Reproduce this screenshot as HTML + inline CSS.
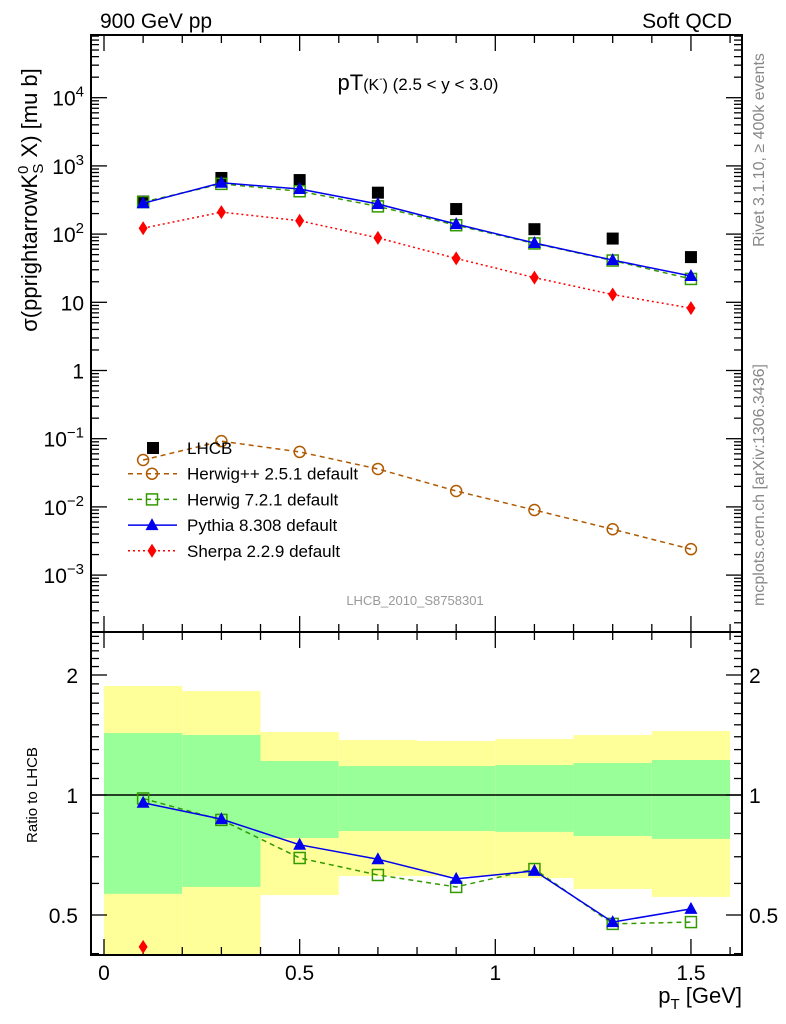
<!DOCTYPE html>
<html><head><meta charset="utf-8">
<style>
html,body{margin:0;padding:0;background:#fff;}
svg{display:block;font-family:"Liberation Sans",sans-serif;}
</style></head>
<body>
<svg id="chart" width="786" height="1024" viewBox="0 0 786 1024" xmlns="http://www.w3.org/2000/svg">
<defs><clipPath id="rclip"><rect x="91" y="632" width="651" height="323"/></clipPath></defs>
<g id="bands"></g>
<g id="grid"></g>
<g id="series"></g>
<text x="100" y="28" font-size="21">900 GeV pp</text>
<text x="732" y="28" font-size="21" text-anchor="end">Soft QCD</text>
<text x="418" y="90" font-size="22" text-anchor="middle">pT<tspan font-size="16">(K</tspan><tspan font-size="10" dy="-8">-</tspan><tspan font-size="16" dy="8">)</tspan><tspan font-size="17"> (2.5 &lt; y &lt; 3.0)</tspan></text>
<text x="415" y="605" font-size="13" fill="#999" text-anchor="middle">LHCB_2010_S8758301</text>
<text transform="translate(764,150) rotate(-90)" font-size="16" fill="#888" text-anchor="middle">Rivet 3.1.10, ≥ 400k events</text>
<text transform="translate(764,485) rotate(-90)" font-size="16" fill="#888" text-anchor="middle">mcplots.cern.ch [arXiv:1306.3436]</text>
<text transform="translate(37,200) rotate(-90)" font-size="22" text-anchor="middle">σ(pprightarrowK<tspan font-size="15" dy="-9">0</tspan><tspan font-size="15" dy="15" dx="-8">S</tspan><tspan dy="-6"> X) [mu b]</tspan></text>
<text transform="translate(37,795) rotate(-90)" font-size="15" text-anchor="middle">Ratio to LHCB</text>
<text x="742" y="1003" font-size="22" text-anchor="end">p<tspan font-size="15" dy="6">T</tspan><tspan dy="-6"> [GeV]</tspan></text>
<g id="legend"></g>
</svg>
<script>
const xCenters=[0.1,0.3,0.5,0.7,0.9,1.1,1.3,1.5];
const binEdges=[0,0.2,0.4,0.6,0.8,1.0,1.2,1.4,1.6];
const lhcb=[300,665,620,405,233,118,86,46];
const herwigpp=[0.0487,0.092,0.064,0.036,0.0171,0.009,0.0047,0.0024];
const herwig7=[295,545,425,255,135,73,41,22];
const pythia=[283,565,458,276,140,74,41.6,24.3];
const sherpa=[122,210,157,88,44,23,13,8.2];
const ratioPythia=[0.956,0.87,0.75,0.69,0.616,0.645,0.48,0.518];
const ratioHerwig7=[0.98,0.866,0.695,0.63,0.588,0.652,0.475,0.48];
const ratioSherpa=[0.416];
const yellowHi=[1.877,1.823,1.439,1.374,1.366,1.382,1.414,1.447];
const yellowLo=[0.3,0.3,0.561,0.626,0.626,0.619,0.581,0.555];
const greenHi=[1.430,1.414,1.217,1.182,1.182,1.189,1.203,1.224];
const greenLo=[0.565,0.588,0.780,0.812,0.812,0.808,0.789,0.776];
const mainTicks=["10⁻³","10⁻²","10⁻¹","1","10","10²","10³","10⁴"];
const xTickLabels=["0","0.5","1","1.5"];

const NS="http://www.w3.org/2000/svg";
const L=91,R=742,T1=35,B1=632,B2=955;
const xs=v=>104+v*391.3;
const ym=v=>370.5-Math.log10(v)*68.2;
const yr=v=>795-Math.log2(v)*120;
function mk(tag,attrs,parent){const e=document.createElementNS(NS,tag);for(const k in attrs)e.setAttribute(k,attrs[k]);parent.appendChild(e);return e;}
const bands=document.getElementById('bands'),grid=document.getElementById('grid'),ser=document.getElementById('series'),leg=document.getElementById('legend');
for(let i=0;i<8;i++){
  const x0=xs(binEdges[i]),x1=xs(binEdges[i+1]);
  const a=Math.max(yr(yellowHi[i]),B1),b=Math.min(yr(yellowLo[i]),B2);
  const r=mk('rect',{x:x0,y:a,width:x1-x0,height:b-a,fill:'#ffff99'},bands);
  
  
  const c=yr(greenHi[i]),d=yr(greenLo[i]);
  const g=mk('rect',{x:x0,y:c,width:x1-x0,height:d-c,fill:'#99ff99'},bands);
  
  
}
mk('rect',{x:L,y:T1,width:R-L,height:B1-T1,fill:'none',stroke:'#000','stroke-width':2},grid);
mk('rect',{x:L,y:B1,width:R-L,height:B2-B1,fill:'none',stroke:'#000','stroke-width':2},grid);
mk('line',{x1:L,x2:R,y1:yr(1),y2:yr(1),stroke:'#000','stroke-width':1.5},grid);
for(let k=0;k<=16;k++){const v=k*0.1,x=xs(v);const big=k%5==0;const len=big?16:8;
  [[T1,1],[B1,-1],[B1,1],[B2,-1]].forEach(([y,s])=>mk('line',{x1:x,x2:x,y1:y,y2:y+s*len,stroke:'#000','stroke-width':1.3},grid));}
xTickLabels.forEach((t,i)=>{const e=mk('text',{x:xs(i*0.5),y:980,'font-size':21,'text-anchor':'middle'},grid);e.textContent=t;
  
  });
for(let p=-4;p<=4;p++){for(let m=1;m<=9;m++){const v=m*Math.pow(10,p);const y=ym(v);if(y<T1||y>B1)continue;
  const len=m==1?16:8;mk('line',{x1:L,x2:L+len,y1:y,y2:y,stroke:'#000','stroke-width':1.3},grid);mk('line',{x1:R,x2:R-len,y1:y,y2:y,stroke:'#000','stroke-width':1.3},grid);}}
mainTicks.forEach((t,i)=>{const p=i-3;const e=mk('text',{x:84,y:ym(Math.pow(10,p))+8,'font-size':21,'text-anchor':'end'},grid);
  if(t.length>2){e.innerHTML='10<tspan font-size="15" dy="-9">'+(p<0?'−'+(-p):p)+'</tspan>';}else e.textContent=t;
  
  });
for(let k=4;k<=25;k++){const v=k/10;const y=yr(v);if(y<B1||y>B2)continue;const major=(k==5||k==10||k==20);const len=major?16:8;
  mk('line',{x1:L,x2:L+len,y1:y,y2:y,stroke:'#000','stroke-width':1.3},grid);mk('line',{x1:R,x2:R-len,y1:y,y2:y,stroke:'#000','stroke-width':1.3},grid);}
[['2',2],['1',1],['0.5',0.5]].forEach(([t,v])=>{
  const a=mk('text',{x:78,y:yr(v)+8,'font-size':21,'text-anchor':'end'},grid);a.textContent=t;
  
  
  const b=mk('text',{x:749,y:yr(v)+8,'font-size':21},grid);b.textContent=t;
  
  });
function marker(type,x,y,color,parent){
  if(type=='sq')return mk('rect',{x:x-6,y:y-6,width:12,height:12,fill:'#000'},parent);
  if(type=='osq')return mk('rect',{x:x-5.5,y:y-5.5,width:11,height:11,fill:'none',stroke:color,'stroke-width':1.5},parent);
  if(type=='circ')return mk('circle',{cx:x,cy:y,r:5.5,fill:'none',stroke:color,'stroke-width':1.5},parent);
  if(type=='tri')return mk('polygon',{points:`${x},${y-7} ${x-6.5},${y+5} ${x+6.5},${y+5}`,fill:color},parent);
  if(type=='dia')return mk('polygon',{points:`${x},${y-7} ${x-4.5},${y} ${x},${y+7} ${x+4.5},${y}`,fill:color},parent);
}
function series(xv,vals,yf,color,dash,type,name,clip){
  const g=mk('g',{},ser);
  if(clip)g.setAttribute('clip-path','url(#rclip)');
  if(dash!==null){const pts=vals.map((v,i)=>xs(xv[i])+','+yf(v)).join(' ');
    mk('polyline',{points:pts,fill:'none',stroke:color,'stroke-width':1.5,'stroke-dasharray':dash},g);}
  vals.forEach((v,i)=>{const m=marker(type,xs(xv[i]),yf(v),color,g);
    
    });
}
series(xCenters,lhcb,ym,'#000',null,'sq','lhcb-data');
series(xCenters,herwigpp,ym,'#b05a00','5,4','circ','herwigpp-series');
series(xCenters,herwig7,ym,'#339900','5,4','osq','herwig7-series');
series(xCenters,sherpa,ym,'#ff0000','2,3','dia','sherpa-series');
series(xCenters,pythia,ym,'#0000ee','','tri','pythia-series');
series(xCenters,ratioHerwig7,yr,'#339900','5,4','osq','ratio-herwig7',true);
series(xCenters,ratioPythia,yr,'#0000ee','','tri','ratio-pythia',true);
series(xCenters.slice(0,1),ratioSherpa,yr,'#ff0000',null,'dia','ratio-sherpa',true);
const entries=[['LHCB','#000',null,'sq'],['Herwig++ 2.5.1 default','#b05a00','5,4','circ'],['Herwig 7.2.1 default','#339900','5,4','osq'],['Pythia 8.308 default','#0000ee','','tri'],['Sherpa 2.2.9 default','#ff0000','2,3','dia']];
entries.forEach((e,i)=>{const y=448+i*25.7;const g=mk('g',{},leg);
  
  
  if(e[2]!==null)mk('line',{x1:128,x2:177,y1:y,y2:y,stroke:e[1],'stroke-width':1.5,'stroke-dasharray':e[2]},g);
  marker(e[3],e[3]=='sq'?153:152,y,e[1],g);
  const t=mk('text',{x:187,y:y+6,'font-size':17},g);t.textContent=e[0];});
</script>
</body></html>
